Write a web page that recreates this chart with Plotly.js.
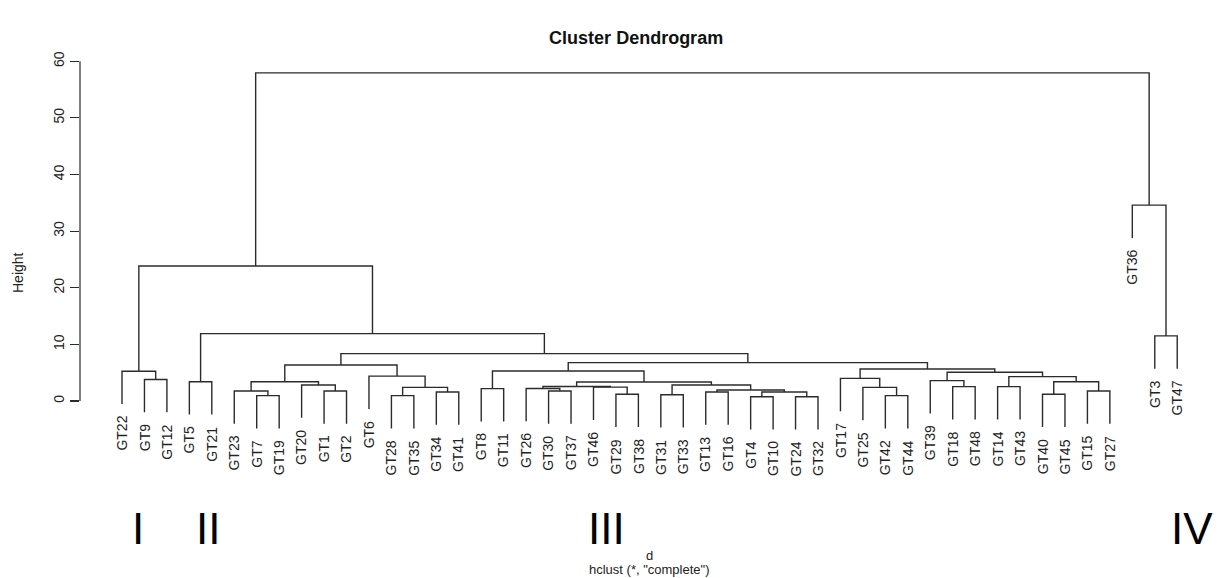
<!DOCTYPE html>
<html>
<head>
<meta charset="utf-8">
<script src="https://cdn.plot.ly/plotly-3.0.1.min.js"></script>
<style>html,body{margin:0;padding:0;background:#fff;}#chart{width:1219px;height:578px;}</style>
</head>
<body>
<div id="chart"></div>
<script>
// Leaf order as drawn (left to right)
const leafOrder = ['GT22','GT9','GT12','GT5','GT21','GT23','GT7','GT19','GT20','GT1','GT2','GT6',
  'GT28','GT35','GT34','GT41','GT8','GT11','GT26','GT30','GT37','GT46','GT29','GT38',
  'GT31','GT33','GT13','GT16','GT4','GT10','GT24','GT32','GT17','GT25','GT42','GT44',
  'GT39','GT18','GT48','GT14','GT43','GT40','GT45','GT15','GT27','GT36','GT3','GT47'];

// Merge table (hclust style): a leaf name, or a number = index (1-based) of an earlier merge
const mergeA = ['GT9','GT22','GT5','GT7','GT23','GT1','GT20',5,'GT28','GT34',9,'GT6',8,'GT8','GT30','GT26',
  'GT29','GT46',16,'GT31','GT13','GT4','GT24',22,21,20,19,14,'GT42','GT25','GT17','GT18','GT39','GT14',
  'GT40','GT15',35,34,33,31,28,13,3,2,'GT3','GT36',44];
const mergeB = ['GT12',1,'GT21','GT19',4,'GT2',6,7,'GT35','GT41',10,11,12,'GT11','GT37',15,
  'GT38',17,18,'GT33','GT16','GT10','GT32',23,24,25,26,27,'GT44',29,30,'GT48',32,'GT43',
  'GT45','GT27',36,37,38,39,40,41,42,43,'GT47',45,46];
const mergeHeight = [3.8,5.25,3.4,0.94,1.77,1.77,2.83,3.4,0.94,1.59,2.41,4.4,6.36,2.18,1.77,2.2,
  1.18,2.45,2.55,1.1,1.59,0.76,0.76,1.59,1.94,2.83,3.35,5.3,0.94,2.41,4.0,2.53,3.6,2.53,
  1.18,1.77,3.4,4.3,5.07,5.65,6.77,8.36,11.9,23.85,11.5,34.6,57.95];

const yTicks = [0,10,20,30,40,50,60];
const groupLabels = ['I','II','III','IV'];
const groupLabelX = [1.71, 4.83, 22.56, 48.66]; // in leaf-position units

const hang = 0.1 * Math.max(...mergeHeight);
const leafPos = {};
leafOrder.forEach((n,i)=>{ leafPos[n] = i+1; });
const mx = [];
const xs = [], ys = [];
const leafBottom = {};
function node(ref){
  if (typeof ref === 'number') return {x: mx[ref-1], y: mergeHeight[ref-1], leaf:false};
  return {x: leafPos[ref], leaf:true, name:ref};
}
for (let i=0;i<mergeHeight.length;i++){
  const h = mergeHeight[i];
  const a = node(mergeA[i]), b = node(mergeB[i]);
  const ya = a.leaf ? h - hang : a.y;
  const yb = b.leaf ? h - hang : b.y;
  if (a.leaf) leafBottom[a.name] = ya;
  if (b.leaf) leafBottom[b.name] = yb;
  xs.push(a.x, a.x, b.x, b.x, null);
  ys.push(ya, h, h, yb, null);
  mx[i] = (a.x + b.x)/2;
}

const lineColor = '#2b2b2b';
const font = 'Liberation Sans, Arial, Helvetica, sans-serif';

const annotations = [];
leafOrder.forEach(n=>{
  annotations.push({x: leafPos[n], y: leafBottom[n], xref:'x', yref:'y', text:n, showarrow:false,
    textangle:-90, xanchor:'center', yanchor:'top', yshift:-10,
    font:{family:font, size:14, color:'#222'}});
});
groupLabels.forEach((t,i)=>{
  annotations.push({x: groupLabelX[i], y: -0.065, xref:'x', yref:'paper', text:t, showarrow:false,
    xanchor:'center', yanchor:'middle', font:{family:font, size:44, color:'#000'}});
});
annotations.push({x:0, y:0.5, xref:'paper', yref:'paper', text:'Height', textangle:-90, showarrow:false,
  xanchor:'center', yanchor:'middle', xshift:-62, font:{family:font, size:14, color:'#222'}});
annotations.push({x:0.509, y:-0.126, xref:'paper', yref:'paper', text:'d', showarrow:false,
  xanchor:'center', yanchor:'middle', font:{family:font, size:13, color:'#222'}});
annotations.push({x:0.509, y:-0.155, xref:'paper', yref:'paper', text:'hclust (*, "complete")', showarrow:false,
  xanchor:'center', yanchor:'middle', font:{family:font, size:13, color:'#222'}});

const trace = {x: xs, y: ys, type:'scatter', mode:'lines', hoverinfo:'skip',
  line:{color:lineColor, width:1.4}, connectgaps:false, cliponaxis:false};

const layout = {
  width:1219, height:578,
  margin:{l:80, r:20, t:47, b:79},
  paper_bgcolor:'#fff', plot_bgcolor:'#fff',
  showlegend:false,
  title:{text:'<b>Cluster Dendrogram</b>', x:0.497, xref:'paper', y:1-38/578, yref:'container', yanchor:'middle',
    font:{family:font, size:18, color:'#111'}},
  xaxis:{range:[-0.871, 48.97], showgrid:false, zeroline:false, showticklabels:false, ticks:'', showline:false},
  yaxis:{range:[-17.31, 62.52], showgrid:false, zeroline:false, showline:false,
    tickvals:yTicks, ticktext:yTicks.map(String), tickangle:-90, ticks:'outside', ticklen:9, tickwidth:1.2,
    tickcolor:lineColor, tickfont:{family:font, size:14, color:'#222'}},
  shapes:[{type:'line', xref:'paper', yref:'y', x0:0, x1:0, y0:yTicks[0], y1:yTicks[yTicks.length-1],
    line:{color:lineColor, width:1.2}}],
  annotations: annotations
};
Plotly.newPlot('chart', [trace], layout, {staticPlot:true, displayModeBar:false});
</script>
</body>
</html>
